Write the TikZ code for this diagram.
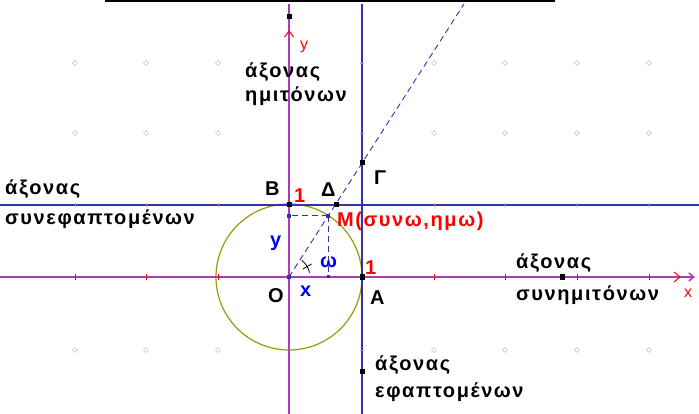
\documentclass[tikz,border=0pt]{standalone}
\usepackage{fontspec}
\setmainfont{Liberation Sans}
\newfontfamily\lbl[LetterSpace=8]{Liberation Sans Bold}
\newfontfamily\axl{Liberation Sans}
\usetikzlibrary{arrows.meta}
\definecolor{axpurple}{RGB}{170,60,185}
\definecolor{lnblue}{RGB}{50,50,170}
\definecolor{circcol}{RGB}{155,155,10}
\definecolor{gridg}{RGB}{195,195,195}
\definecolor{tickg}{RGB}{170,170,190}
\tikzset{
  txt/.style={inner sep=0pt, anchor=base west, font=\lbl\fontsize{20}{22}\selectfont},
  rtxt/.style={txt, text=red},
  btxt/.style={txt, text=blue},
  axtxt/.style={inner sep=0pt, anchor=base west, text=red, font=\axl\fontsize{16}{18}\selectfont},
  ptk/.style={fill=black, draw=none, minimum size=5pt, inner sep=0pt, rectangle},
  ptb/.style={fill=lnblue, draw=none, minimum size=4pt, inner sep=0pt, rectangle},
  axis/.style={axpurple, line width=1.5pt},
  bline/.style={lnblue, line width=1.3pt},
  dline/.style={lnblue, line width=0.9pt, dash pattern=on 6pt off 4pt},
}
\begin{document}
\begin{tikzpicture}[x=1pt,y=-1pt]
\useasboundingbox (0,0) rectangle (699,414);
% grid dots
\foreach \gx in {75,146,218,434,505,577,649}{
  \foreach \gy in {63,133,350}{
    \draw[gridg, line width=0.6pt] (\gx-2.5,\gy) -- (\gx,\gy-2.5) -- (\gx+2.5,\gy) -- (\gx,\gy+2.5) -- cycle;
  }
}
% named points
\coordinate (O) at (289,277);
\coordinate (A) at (362,277);
\coordinate (B) at (289,205);
\coordinate (M) at (328.4,215.6);
\coordinate (Dl) at (336,205);
\coordinate (G) at (362,163);
\coordinate (My) at (289,215.6);
\coordinate (Mx) at (328.4,277);
\coordinate (tp) at (464,4);
\coordinate (yTop) at (289,4);
\coordinate (yBot) at (289,414);
\coordinate (xL) at (0,277);
\coordinate (xR) at (695,277);
\coordinate (tTop) at (362,4);
\coordinate (tBot) at (362,414);
\coordinate (cL) at (0,205);
\coordinate (cR) at (699,205);
\coordinate (hl1) at (105,1.2);
\coordinate (hl2) at (555,1.2);
% top line
\draw[black, line width=2.4pt] (hl1) -- (hl2);
% circle
\draw[circcol, line width=1.2pt] (O) circle[radius=73];
% axes
\draw[axis] (yBot) -- (yTop);
\draw[axis, -{Straight Barb[length=5pt,width=8pt]}] (xL) -- (xR);
\draw[bline] (tBot) -- (tTop);
\draw[bline] (cL) -- (cR);
% ticks
\foreach \gx in {75,146,218,434,505,577,649}{
  \draw[red, line width=0.8pt] (\gx,274) -- (\gx,280);
  \draw[tickg, line width=0.8pt] (\gx,203) -- (\gx,207);
}
\foreach \gy in {63,133,350}{
  \draw[tickg, line width=0.8pt] (360,\gy) -- (364,\gy);
}
% red axis chevrons
\draw[red, line width=1pt] (674,272) -- (680,277) -- (674,282);
\draw[red, line width=1pt] (284.5,37) -- (289,31) -- (293.5,37);
% dashed lines
\draw[dline] (O) -- (tp);
\draw[dline] (M) -- (My);
\draw[dline] (M) -- (Mx);
% angle mark
\draw[black, line width=0.8pt] (O) ++(-12:21) arc[start angle=-12, end angle=-52, radius=21];
\draw[black, line width=0.8pt] (O) ++(-30:16) -- ++(-30:10);
% points
\node[ptk] (pTop) at (289,17) {};
\node[ptk] (pB) at (B) {};
\node[ptk] (pD) at (Dl) {};
\node[ptk] (pG) at (G) {};
\node[ptb] (pO) at (O) {};
\node[ptk] (pA) at (A) {};
\node[ptb] (pMy) at (My) {};
\node[ptb] (pM) at (M) {};
\node[ptb, minimum size=3pt] (pMx) at (Mx) {};
\node[ptk] (pX) at (562,277) {};
\node[ptk] (pT) at (362,371) {};
% labels
\node[txt] (l1) at (245,78) {άξονας};
\node[txt] (l2) at (245,102) {ημιτόνων};
\node[txt] (l3) at (5,195) {άξονας};
\node[txt] (l4) at (5,225) {συνεφαπτομένων};
\node[txt] (l5) at (516,269) {άξονας};
\node[txt] (l6) at (516,301) {συνημιτόνων};
\node[txt] (l7) at (375,370) {άξονας};
\node[txt] (l8) at (375,397) {εφαπτομένων};
\node[txt] (lB) at (265,196) {B};
\node[txt] (lD) at (321,197) {Δ};
\node[txt] (lG) at (374,185) {Γ};
\node[txt] (lO) at (268,302) {O};
\node[txt] (lA) at (370,305) {A};
\node[rtxt] (l1b) at (294,203) {1};
\node[rtxt] (l1a) at (365,275) {1};
\node[rtxt] (lM) at (337,227) {M(συνω,ημω)};
\node[btxt] (ly) at (270,247) {y};
\node[btxt] (lw) at (320,268) {ω};
\node[btxt] (lx) at (300,297) {x};
\node[axtxt] (ay) at (300,50) {y};
\node[axtxt] (ax) at (684,298) {x};
\end{tikzpicture}
\end{document}
